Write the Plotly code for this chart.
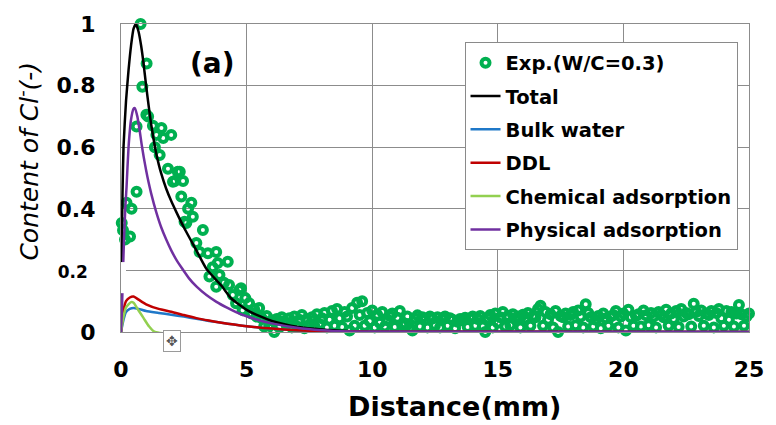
import numpy as np
import plotly.graph_objects as go

# ---------------- data ----------------
# experimental points, rising / decaying part
exp_x_head = [-0.3, 0.03, 0.08, 0.16, 0.22, 0.36, 0.42, 0.62, 0.62, 0.78, 0.85, 1.01, 1.02, 1.08,
              1.27, 1.35, 1.41, 1.54, 1.61, 1.68, 1.87, 2.0, 2.07, 2.14, 2.26, 2.34, 2.4, 2.47,
              2.53, 2.6, 2.67, 2.8, 2.86, 3.0, 3.13, 3.26, 3.46, 3.52, 3.65, 3.79, 3.79, 3.85,
              3.92, 4.1, 4.25, 4.3, 4.45, 4.58, 4.71, 4.78, 4.84, 4.95, 5.1, 5.2, 5.3, 5.4, 5.5]
exp_y_head = [0.18, 0.354, 0.33, 0.30, 0.42, 0.31, 0.40, 0.455, 0.667, 1.0, 0.796, 0.705, 0.872, 0.70,
              0.67, 0.60, 0.64, 0.575, 0.662, 0.63, 0.53, 0.64, 0.488, 0.49, 0.52, 0.52, 0.44, 0.49,
              0.358, 0.354, 0.40, 0.42, 0.374, 0.289, 0.26, 0.331, 0.256, 0.18, 0.21, 0.26, 0.147, 0.224,
              0.185, 0.16, 0.228, 0.153, 0.12, 0.093, 0.136, 0.142, 0.071, 0.11, 0.093, 0.06, 0.075, 0.05, 0.078]

# experimental points, flat tail (5.6 mm ... 25.0 mm every 0.1 mm)
exp_x_tail = np.round(np.arange(5.6, 25.05, 0.1), 1)
exp_y_tail = [
    0.045, 0.018, 0.052, 0.020, 0.038, 0.000, 0.042, 0.015, 0.048, 0.035,
    0.025, 0.045, 0.015, 0.050, 0.018, 0.040, 0.055, 0.012, 0.042, 0.023,
    0.048, 0.018, 0.058, 0.026, 0.045, 0.062, 0.015, 0.040, 0.068, 0.020,
    0.075, 0.045, 0.016, 0.065, 0.050, 0.005, 0.078, 0.020, 0.095, 0.055,
    0.100, 0.020, 0.062, 0.035, 0.070, 0.015, 0.056, 0.030, 0.065, 0.018,
    0.038, 0.052, 0.060, 0.016, 0.046, 0.068, 0.022, 0.028, 0.050, 0.014,
    0.005, 0.045, 0.054, 0.018, 0.048, 0.040, 0.015, 0.050, 0.044, 0.022,
    0.048, 0.015, 0.042, 0.050, 0.020, 0.045, 0.040, 0.012, 0.033, 0.042,
    0.038, 0.046, 0.016, 0.044, 0.050, 0.020, 0.042, 0.052, 0.018, 0.000,
    0.045, 0.055, 0.015, 0.060, 0.030, 0.048, 0.065, 0.018, 0.052, 0.022,
    0.058, 0.042, 0.050, 0.015, 0.056, 0.045, 0.062, 0.020, 0.052, 0.048,
    0.075, 0.085, 0.020, 0.065, 0.040, 0.058, 0.015, 0.068, 0.000, 0.052,
    0.048, 0.060, 0.018, 0.055, 0.065, 0.022, 0.070, 0.050, 0.015, 0.090,
    0.062, 0.048, 0.018, 0.040, 0.052, 0.012, 0.060, 0.045, 0.020, 0.050,
    0.055, 0.068, 0.015, 0.050, 0.060, 0.005, 0.072, 0.048, 0.020, 0.052,
    0.058, 0.018, 0.070, 0.054, 0.022, 0.062, 0.050, 0.015, 0.065, 0.056,
    0.048, 0.072, 0.020, 0.060, 0.042, 0.068, 0.016, 0.075, 0.050, 0.062,
    0.058, 0.018, 0.092, 0.065, 0.052, 0.070, 0.020, 0.060, 0.055, 0.068,
    0.015, 0.062, 0.075, 0.045, 0.020, 0.068, 0.040, 0.065, 0.018, 0.060,
    0.088, 0.058, 0.020, 0.050, 0.060,
]

# model curves
tot_x = [0, 0.03, 0.06, 0.1, 0.2, 0.3, 0.4, 0.5, 0.6, 0.7, 0.8, 0.9, 1.0, 1.1, 1.2, 1.3, 1.4, 1.5,
         1.6, 1.8, 2.0, 2.2, 2.5, 3.0, 3.4, 4.0, 4.4, 5.0, 5.5, 6.0, 6.5, 7.0, 8.0, 9.0, 10.0, 25.0]
tot_y = [0, 0.25, 0.45, 0.60, 0.75, 0.85, 0.93, 0.985, 1.0, 0.975, 0.93, 0.87, 0.80, 0.735, 0.675,
         0.625, 0.58, 0.545, 0.515, 0.465, 0.425, 0.39, 0.34, 0.265, 0.205, 0.15, 0.108, 0.072,
         0.052, 0.036, 0.025, 0.017, 0.008, 0.003, 0.001, 0]

phy_x = [0, 0.04, 0.08, 0.12, 0.17, 0.22, 0.3, 0.4, 0.5, 0.55, 0.65, 0.75, 0.82, 0.9, 1.0, 1.1, 1.2,
         1.4, 1.6, 1.8, 2.0, 2.2, 2.4, 2.7, 3.0, 3.4, 3.8, 4.2, 4.6, 5.0, 5.5, 6.0, 7.0, 8.0, 9.0,
         10.0, 25.0]
phy_y = [0, 0.08, 0.20, 0.30, 0.40, 0.47, 0.60, 0.69, 0.725, 0.727, 0.70, 0.65, 0.61, 0.57, 0.525,
         0.485, 0.45, 0.39, 0.34, 0.30, 0.265, 0.235, 0.21, 0.175, 0.148, 0.12, 0.098, 0.08, 0.064,
         0.051, 0.038, 0.028, 0.014, 0.006, 0.002, 0.0005, 0]

ddl_x = [0, 0.1, 0.2, 0.35, 0.5, 0.7, 1.0, 1.5, 2.0, 2.5, 3.0, 3.5, 4.0, 4.5, 5.0, 6.0, 7.0, 8.0, 10.0, 25.0]
ddl_y = [0, 0.07, 0.10, 0.112, 0.115, 0.105, 0.09, 0.075, 0.066, 0.055, 0.045, 0.037, 0.030, 0.024,
         0.019, 0.011, 0.006, 0.003, 0.001, 0]

blk_x = [0, 0.1, 0.2, 0.35, 0.5, 0.7, 1.0, 1.5, 2.0, 2.5, 3.0, 3.5, 4.0, 4.5, 5.0, 6.0, 7.0, 8.0, 10.0, 25.0]
blk_y = [0, 0.04, 0.065, 0.075, 0.078, 0.075, 0.068, 0.062, 0.056, 0.050, 0.043, 0.036, 0.030, 0.024,
         0.019, 0.011, 0.006, 0.003, 0.001, 0]

chm_x = [0, 0.1, 0.2, 0.4, 0.5, 0.7, 0.9, 1.1, 1.35, 25.0]
chm_y = [0, 0.05, 0.08, 0.097, 0.095, 0.07, 0.045, 0.02, 0, 0]

x_ticks = [0, 5, 10, 15, 20, 25]
y_ticks = [0, 0.2, 0.4, 0.6, 0.8, 1.0]
y_ticktext = ["0", "<span style='font-size:17px'>0.2</span> ", "0.4", "0.6", "0.8", "1"]

# ---------------- figure ----------------
FONT = "DejaVu Sans"
fig = go.Figure()

fig.add_trace(go.Scatter(
    x=list(exp_x_head) + list(exp_x_tail), y=list(exp_y_head) + list(exp_y_tail),
    mode="markers", name="<b>Exp.(W/C=0.3)</b>", legendgroup="g1", cliponaxis=False,
    marker=dict(symbol="circle-open", size=8, color="#00b050", line=dict(width=4, color="#00b050"))))

lines = [
    (tot_x, tot_y, "Total", "#000000"),
    (blk_x, blk_y, "Bulk water", "#1f78c8"),
    (ddl_x, ddl_y, "DDL", "#c00000"),
    (chm_x, chm_y, "Chemical adsorption", "#92d050"),
    (phy_x, phy_y, "Physical adsorption", "#7030a0"),
]
for i, (xs, ys, nm, col) in enumerate(lines):
    fig.add_trace(go.Scatter(x=xs, y=ys, mode="lines", name=f"<b>{nm}</b>", legendgroup=f"g{i+2}",
                             line=dict(color=col, width=2.5, shape="spline", smoothing=0.5)))

fig.update_layout(
    width=776, height=425,
    margin=dict(l=121, r=23, t=24, b=93),
    paper_bgcolor="white", plot_bgcolor="white",
    font=dict(family=FONT, color="black"),
    legend=dict(x=0.547, y=0.94, xanchor="left", yanchor="top",
                bgcolor="white", bordercolor="#8a8a8a", borderwidth=1,
                font=dict(family=FONT, size=19.5, color="black"),
                traceorder="grouped", tracegroupgap=5),
)
fig.update_xaxes(range=[0, 25], tickvals=x_ticks, showgrid=True, gridcolor="#8c8c8c", gridwidth=1.2,
                 showline=True, linecolor="#8c8c8c", linewidth=1.2, mirror=True, zeroline=False,
                 ticks="", ticklabelstandoff=17,
                 tickfont=dict(family=FONT, size=22, color="black", weight="bold"))
fig.update_yaxes(range=[0, 1], tickvals=y_ticks, ticktext=y_ticktext, showgrid=True,
                 gridcolor="#8c8c8c", gridwidth=1.2,
                 showline=True, linecolor="#8c8c8c", linewidth=1.2, mirror=True, zeroline=False,
                 ticks="", ticklabelstandoff=20,
                 tickfont=dict(family=FONT, size=22, color="black", weight="bold"))

# white patch behind the "0.2" label (as in the reference)
fig.add_shape(type="rect", xref="x", yref="y", x0=-0.08, x1=0.2, y0=0.126, y1=0.227,
              fillcolor="white", line=dict(width=0), layer="above")

fig.add_annotation(text="<b>(a)</b>", xref="paper", yref="paper",
                   x=(213 - 121) / 632, y=(332 - 63) / 308, showarrow=False,
                   xanchor="center", yanchor="middle",
                   font=dict(family=FONT, size=28, color="black"))
fig.add_annotation(text="<i>Content of Cl<sup>-</sup>(-)</i>", xref="paper", yref="paper",
                   x=(27 - 121) / 632, y=(332 - 161) / 308, textangle=-90, showarrow=False,
                   xanchor="center", yanchor="middle",
                   font=dict(family=FONT, size=25, color="black"))
fig.add_annotation(text="<b>Distance(mm)</b>", xref="paper", yref="paper",
                   x=(457 - 121) / 632, y=(332 - 406) / 308, showarrow=False,
                   xanchor="center", yanchor="middle",
                   font=dict(family=FONT, size=27, color="black"))
fig.add_annotation(text="✥", xref="x", yref="paper", x=2.02, y=(332 - 341) / 308,
                   showarrow=False, bordercolor="#9a9a9a", borderwidth=1, borderpad=2,
                   xanchor="center", yanchor="middle",
                   bgcolor="white", font=dict(family=FONT, size=14, color="#555"))

fig.write_html("out.html")
